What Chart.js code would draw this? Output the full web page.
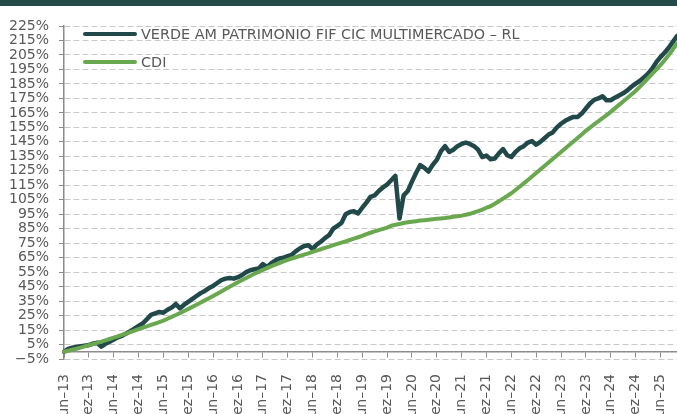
<!DOCTYPE html>
<html lang="pt-BR">
<head>
<meta charset="utf-8">
<title>Verde AM Patrimonio x CDI</title>
<script src="https://cdn.jsdelivr.net/npm/chart.js@4.4.1/dist/chart.umd.min.js"></script>
<style>
  html, body { margin: 0; padding: 0; background: #fff; }
  #wrap { position: relative; width: 677px; height: 414px; overflow: hidden; font-family: 'DejaVu Sans', sans-serif; }
  #faixa { position: absolute; left: 0; top: 0; width: 677px; height: 6px; background: #234b48; z-index: 2; }
  #grafico { position: absolute; left: 0; top: 0; }
  #legenda { position: absolute; left: 83px; top: 24px; z-index: 2; }
  .item { display: flex; align-items: center; height: 20px; margin-bottom: 8px; color: #595959; font-size: 14.4px; white-space: nowrap; }
  .traco { width: 54px; height: 4px; border-radius: 2px; margin-right: 4px; }
</style>
</head>
<body>
<div id="wrap">
  <div id="faixa"></div>
  <canvas id="grafico" width="677" height="414"></canvas>
  <div id="legenda"></div>
</div>
<script>
// MESES E ROTULOS DO EIXO X
const meses = ['jan', 'fev', 'mar', 'abr', 'mai', 'jun', 'jul', 'ago', 'set', 'out', 'nov', 'dez'];
const xTickLabels = ['jun\u201313', 'dez\u201313', 'jun\u201314', 'dez\u201314', 'jun\u201315', 'dez\u201315',
    'jun\u201316', 'dez\u201316', 'jun\u201317', 'dez\u201317', 'jun\u201318', 'dez\u201318', 'jun\u201319',
    'dez\u201319', 'jun\u201320', 'dez\u201320', 'jun\u201321', 'dez\u201321', 'jun\u201322', 'dez\u201322',
    'jun\u201323', 'dez\u201323', 'jun\u201324', 'dez\u201324', 'jun\u201325'];
const yTicks = [-5, 5, 15, 25, 35, 45, 55, 65, 75, 85, 95, 105, 115, 125, 135, 145, 155, 165, 175, 185, 195, 205, 215, 225];

// NOMES DAS SERIES
const nomeFundo = 'VERDE AM PATRIMONIO FIF CIC MULTIMERCADO \u2013 RL';
const nomeCdi = 'CDI';

// RENTABILIDADE ACUMULADA MENSAL (%), jun-13 ate out-25
const fundo = [
    0, 2, 2.8, 3.3, 3.8, 4.2, 4.6, 5.6, 6.3, 3.5, 5.5, 6.8,
    8.5, 10, 11, 12.6, 14.2, 16, 17.8, 19.5, 22.5, 25.5, 26.5, 27.5,
    27, 29, 30.5, 33, 30, 32.5, 34.5, 36.5, 38.5, 40.5, 42, 44,
    45.5, 47.5, 49.5, 50.5, 51, 50.5, 51.5, 53, 55, 56.3, 57, 57.5,
    60.5, 58.6, 61, 63, 64.4, 65, 66, 67, 69.5, 71.5, 73, 73.6,
    71, 74, 76, 78.5, 80.5, 85, 87, 89, 95, 96.5, 97, 95.5,
    99.5, 103, 107, 108, 111, 113.5, 115.5, 118.5, 121.5, 92, 108, 111,
    117.5, 123.5, 129, 127, 124.5, 129, 132.5, 138.5, 142, 138, 139.5, 142,
    143.5, 144.5, 143.5, 142, 139.5, 134.5, 135.5, 133, 133.5, 137, 140, 135.7,
    134.5, 138, 140.5, 142, 144.5, 145.5, 143, 145, 147.5, 150, 151.5, 155,
    157.5, 159.5, 161, 162.2, 162.2, 164.5, 168, 171.5, 174, 175, 176.5, 173.7,
    173.7, 175.5, 177, 178.5, 180.5, 183, 185.2, 187, 189.5, 192, 195.5, 200,
    203.5, 206.5, 210, 214, 218
];
const cdi = [
    0, 0.7, 1.4, 2.1, 2.9, 3.7, 4.5, 5.3, 6.2, 7.0, 7.9, 8.8,
    9.7, 10.7, 11.6, 12.6, 13.6, 14.6, 15.6, 16.6, 17.5, 18.5, 19.5, 20.5,
    21.5, 22.8, 24.1, 25.4, 26.7, 28.1, 29.5, 31.0, 32.5, 34.0, 35.5, 37.0,
    38.5, 40.1, 41.7, 43.3, 44.9, 46.4, 48.0, 49.5, 51.0, 52.5, 53.9, 55.2,
    56.5, 57.8, 59.0, 60.2, 61.3, 62.4, 63.5, 64.4, 65.3, 66.2, 67.1, 68.0,
    69.0, 69.9, 70.8, 71.7, 72.6, 73.6, 74.5, 75.4, 76.3, 77.2, 78.1, 79.1,
    80.0, 81.2, 82.2, 83.1, 84.0, 84.9, 85.8, 87.0, 87.7, 88.3, 88.9, 89.4,
    89.8, 90.2, 90.6, 90.9, 91.2, 91.5, 91.8, 92.1, 92.4, 92.8, 93.2, 93.6,
    94.0, 94.6, 95.3, 96.2, 97.2, 98.2, 99.5, 100.5, 102.2, 104.0, 105.8, 107.6,
    109.5, 111.7, 114.0, 116.3, 118.6, 121.0, 123.5, 125.9, 128.3, 130.7, 133.1, 135.5,
    138.0, 140.4, 142.8, 145.2, 147.7, 150.1, 152.6, 154.8, 157.0, 159.2, 161.3, 163.5,
    165.7, 168.1, 170.5, 172.9, 175.3, 177.7, 180.1, 183.0, 185.9, 188.9, 191.9, 194.9,
    198.0, 201.4, 204.9, 208.8, 213.0
];

// CORES
const corFundo = '#22494a';
const corCdi = '#6aa84f';
const corTexto = '#595959';
const corEixo = '#8c8c8c';

// CATEGORIAS MENSAIS (jun-13 em diante)
const labels = [];
for (let i = 0; i < fundo.length; i++) {
    const m = (5 + i) % 12;
    const ano = 13 + Math.floor((5 + i) / 12);
    labels.push(meses[m] + '\u2013' + ano);
}

// LEGENDA EM HTML
const legenda = document.getElementById('legenda');
[[nomeFundo, corFundo], [nomeCdi, corCdi]].forEach(function (par) {
    const item = document.createElement('div');
    item.className = 'item';
    const traco = document.createElement('span');
    traco.className = 'traco';
    traco.style.background = par[1];
    const texto = document.createElement('span');
    texto.textContent = par[0];
    item.appendChild(traco);
    item.appendChild(texto);
    legenda.appendChild(item);
});

const fonteY = { family: "'DejaVu Sans', sans-serif", size: 14 };
const fonteX = { family: "'DejaVu Sans', sans-serif", size: 14 };

var ctx = document.getElementById('grafico').getContext('2d');
window.grafico = new Chart(ctx, {
    type: 'line',
    data: {
        labels: labels,
        datasets: [{
            label: nomeFundo,
            data: fundo,
            borderColor: corFundo,
            borderWidth: 4.5,
            pointRadius: 0,
            tension: 0,
            borderJoinStyle: 'round',
            borderCapStyle: 'round',
            order: 1
        }, {
            label: nomeCdi,
            data: cdi,
            borderColor: corCdi,
            borderWidth: 4,
            pointRadius: 0,
            tension: 0,
            borderJoinStyle: 'round',
            borderCapStyle: 'round',
            order: 0
        }]
    },
    options: {
        responsive: false,
        animation: false,
        layout: { padding: { top: 26, right: 0, bottom: 0, left: 0 } },
        plugins: {
            legend: { display: false },
            tooltip: { enabled: false }
        },
        scales: {
            x: {
                type: 'category',
                position: 'bottom',
                grid: { display: false, drawTicks: false },
                border: { display: false },
                ticks: {
                    autoSkip: false,
                    minRotation: 90,
                    maxRotation: 90,
                    padding: 15,
                    color: corTexto,
                    font: fonteX,
                    callback: function (value, index) {
                        const lbl = labels[index];
                        return xTickLabels.includes(lbl) ? lbl : null;
                    }
                },
                afterFit: function (scale) {
                    scale.height = 55;
                    scale.paddingLeft = 0;
                    scale.paddingRight = 0;
                }
            },
            x2: {
                type: 'category',
                position: { y: 0 },
                grid: {
                    drawOnChartArea: false,
                    drawTicks: true,
                    tickLength: 5,
                    lineWidth: 1,
                    color: c => xTickLabels.includes(labels[c.index]) ? corEixo : 'rgba(0,0,0,0)',
                    tickColor: c => xTickLabels.includes(labels[c.index]) ? corEixo : 'rgba(0,0,0,0)'
                },
                border: { display: true, color: corEixo, width: 1.5 },
                ticks: { display: false, autoSkip: false },
                afterFit: function (scale) {
                    scale.height = 0;
                    scale.paddingLeft = 0;
                    scale.paddingRight = 0;
                }
            },
            y: {
                min: -5,
                max: 225,
                afterBuildTicks: function (scale) {
                    scale.ticks = yTicks.map(v => ({ value: v }));
                },
                grid: {
                    color: '#c8c8c8',
                    lineWidth: 1,
                    drawTicks: true,
                    tickLength: 5,
                    tickColor: corEixo
                },
                border: { display: true, color: corEixo, width: 1.5, dash: [6, 3] },
                ticks: {
                    autoSkip: false,
                    padding: 10,
                    color: corTexto,
                    font: fonteY,
                    callback: function (value) {
                        return (value < 0 ? '\u2212' + Math.abs(value) : value) + '%';
                    }
                },
                afterFit: function (scale) {
                    scale.width = 64;
                }
            }
        }
    }
});
</script>
</body>
</html>
